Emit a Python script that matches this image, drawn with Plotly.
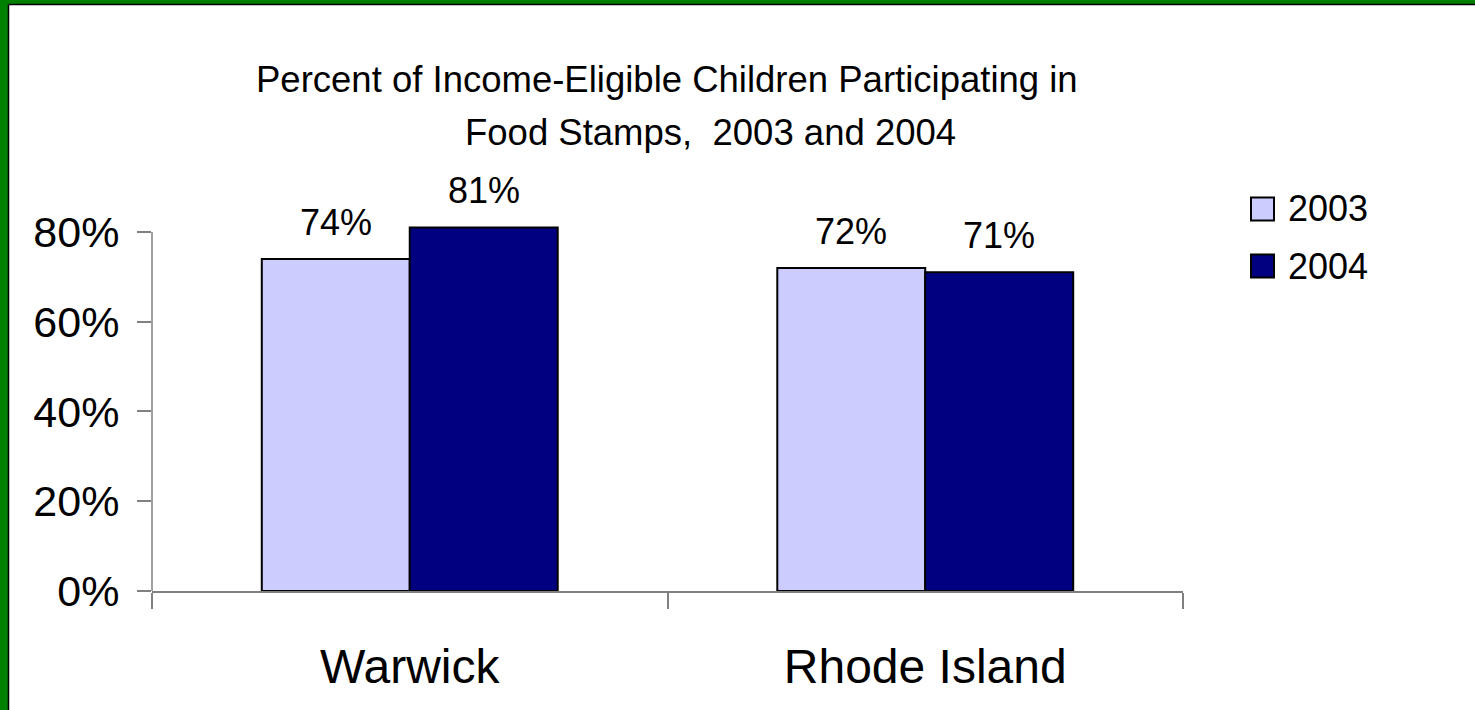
import plotly.graph_objects as go

# ---------------- data ----------------
categories = ["Warwick", "Rhode Island"]
series_names = ["2003", "2004"]
values_2003 = [0.74, 0.72]
values_2004 = [0.81, 0.71]
y_tick_values = [0, 0.2, 0.4, 0.6, 0.8]
y_tick_labels = ["0%", "20%", "40%", "60%", "80%"]
title_lines = ["Percent of Income-Eligible Children Participating in",
               "Food Stamps,  2003 and 2004"]

# ---------------- layout constants ----------------
W_FIG, H_FIG = 1475, 710
L, R, T, B = 152, 292, 223, 119
PW = W_FIG - L - R
PH = H_FIG - T - B
Y_MAX = 0.82
Y_AXIS_TOP = 0.8
BARGAP = 0.426
FONT = "Liberation Sans, Arial, sans-serif"
AXIS_COLOR = "#808080"
colors = ["#CCCCFF", "#000080"]


def px_x(p):
    return (p - L) / PW


def px_y(p):
    return 1 - (p - T) / PH


fig = go.Figure()
all_values = [values_2003, values_2004]
for name, vals, col in zip(series_names, all_values, colors):
    fig.add_bar(
        x=categories, y=vals, name=name,
        marker=dict(color=col, line=dict(color="black", width=2)),
        showlegend=False, hoverinfo="x+y+name",
    )

annotations = []
# data labels
bar_w = (1 - BARGAP) / 2
for j, vals in enumerate(all_values):
    off = (j - 0.5) * bar_w
    for i, v in enumerate(vals):
        annotations.append(dict(
            x=i + off, y=v, xref="x", yref="y", text=f"{round(v * 100)}%",
            showarrow=False, yanchor="bottom", xanchor="center", yshift=14,
            font=dict(family=FONT, size=36, color="black"),
        ))

# title lines
title_pos = [(667, 79), (710, 132)]
for line, (xp, yp) in zip(title_lines, title_pos):
    annotations.append(dict(
        x=px_x(xp), y=px_y(yp), xref="paper", yref="paper", text=line,
        showarrow=False, xanchor="center", yanchor="middle",
        font=dict(family=FONT, size=36.5, color="black"),
    ))

# custom legend
shapes = []
leg_centers = [209, 266]
for name, col, cy in zip(series_names, colors, leg_centers):
    shapes.append(dict(
        type="rect", xref="paper", yref="paper",
        x0=px_x(1251), x1=px_x(1274), y0=px_y(cy + 11.5), y1=px_y(cy - 11.5),
        fillcolor=col, line=dict(color="black", width=2),
    ))
    annotations.append(dict(
        x=px_x(1286), y=px_y(cy), xref="paper", yref="paper", text=name,
        showarrow=False, xanchor="left", yanchor="middle",
        font=dict(family=FONT, size=36, color="black"),
    ))

# y axis line (only up to 80%)
shapes.append(dict(
    type="line", xref="paper", yref="y", x0=0, x1=0, y0=0, y1=Y_AXIS_TOP,
    line=dict(color=AXIS_COLOR, width=1.5),
))

# green frame (left & top)
shapes.append(dict(type="rect", xref="paper", yref="paper",
                   x0=px_x(0), x1=px_x(8), y0=px_y(H_FIG), y1=px_y(0),
                   fillcolor="#008000", line=dict(width=0), layer="above"))
shapes.append(dict(type="rect", xref="paper", yref="paper",
                   x0=px_x(0), x1=px_x(W_FIG), y0=px_y(4), y1=px_y(0),
                   fillcolor="#008000", line=dict(width=0), layer="above"))
shapes.append(dict(type="line", xref="paper", yref="paper",
                   x0=px_x(8.5), x1=px_x(8.5), y0=px_y(H_FIG), y1=px_y(4.5),
                   line=dict(color="black", width=1.5), layer="above"))
shapes.append(dict(type="line", xref="paper", yref="paper",
                   x0=px_x(8.5), x1=px_x(W_FIG), y0=px_y(4.5), y1=px_y(4.5),
                   line=dict(color="black", width=1.5), layer="above"))

fig.update_layout(
    width=W_FIG, height=H_FIG,
    margin=dict(l=L, r=R, t=T, b=B, pad=0),
    paper_bgcolor="white", plot_bgcolor="white",
    barmode="group", bargap=BARGAP, bargroupgap=0,
    font=dict(family=FONT, color="black"),
    showlegend=False,
    annotations=annotations, shapes=shapes,
    xaxis=dict(
        type="category", range=[-0.5, 1.5], showline=True, linecolor=AXIS_COLOR,
        linewidth=1.5, ticks="outside", tickson="boundaries", ticklen=16,
        tickcolor=AXIS_COLOR, tickwidth=1.5, showgrid=False, zeroline=False,
        tickfont=dict(family=FONT, size=48, color="black"),
        ticklabelstandoff=33,
    ),
    yaxis=dict(
        range=[0, Y_MAX], showline=False, tickvals=y_tick_values,
        ticktext=y_tick_labels, ticks="outside", ticklen=14,
        tickcolor=AXIS_COLOR, tickwidth=1.5, showgrid=False, zeroline=False,
        tickfont=dict(family=FONT, size=43, color="black"),
        ticklabelstandoff=9,
    ),
)

fig.write_html(
    "out.html",
    config={"displayModeBar": False},
    post_script="document.body.style.margin='0';document.body.style.overflow='hidden';",
)
